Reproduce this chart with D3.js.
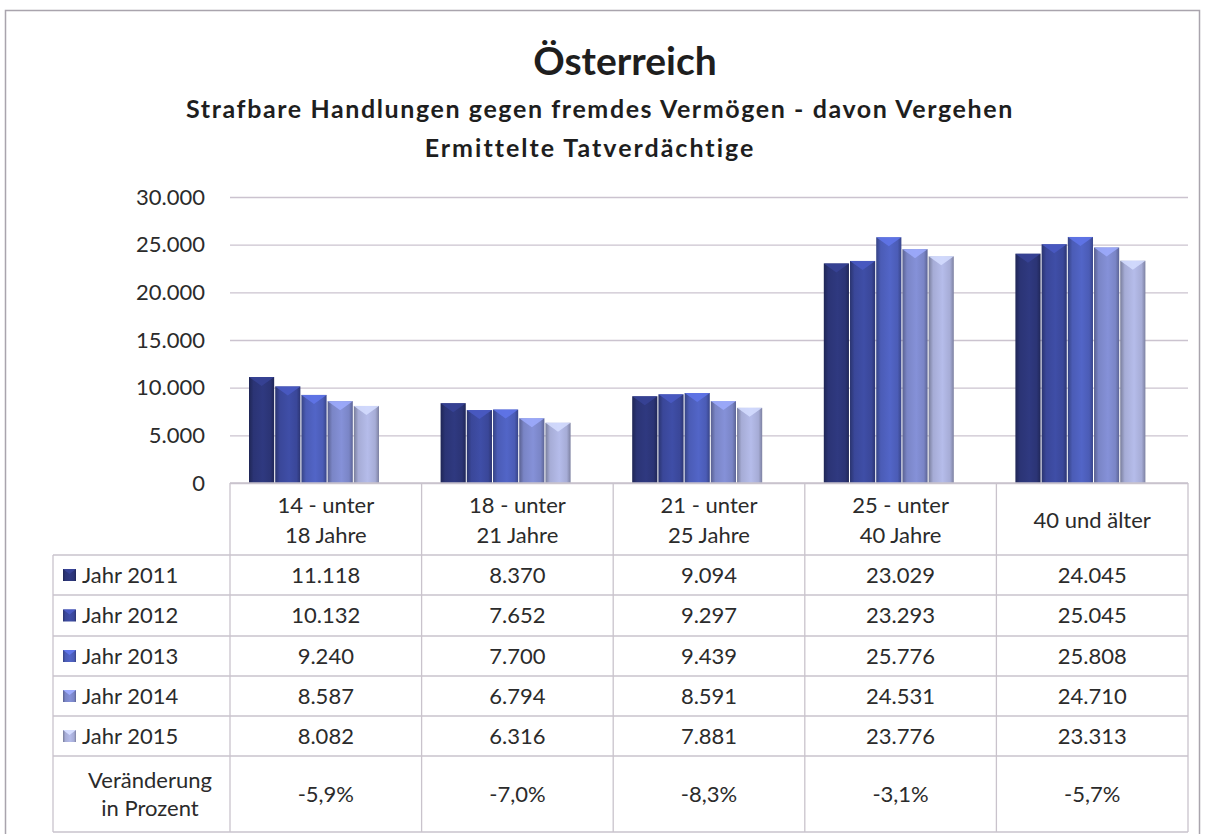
<!DOCTYPE html>
<html>
<head>
<meta charset="utf-8">
<script src="https://cdn.jsdelivr.net/npm/d3@7"></script>
<style>
  body { margin: 0; background: #fff; }
  text { font-family: Lato, "Open Sans", sans-serif; fill: #2b2b2b; }
</style>
</head>
<body>
<script>
var width = 1207,
    height = 834;

var categories = [["14 - unter", "18 Jahre"], ["18 - unter", "21 Jahre"], ["21 - unter", "25 Jahre"], ["25 - unter", "40 Jahre"], ["40 und älter"]];
var years = ["Jahr 2011", "Jahr 2012", "Jahr 2013", "Jahr 2014", "Jahr 2015"];
var v2011 = [11118, 8370, 9094, 23029, 24045];
var v2012 = [10132, 7652, 9297, 23293, 25045];
var v2013 = [9240, 7700, 9439, 25776, 25808];
var v2014 = [8587, 6794, 8591, 24531, 24710];
var v2015 = [8082, 6316, 7881, 23776, 23313];
var change = [-5.9, -7.0, -8.3, -3.1, -5.7];
var yTicks = [0, 5000, 10000, 15000, 20000, 25000, 30000];

var series = [v2011, v2012, v2013, v2014, v2015];
var colors = ["#2b3475", "#3a4799", "#4b5cb6", "#7a85c6", "#a6acd6"];

var de = d3.formatLocale({decimal: ",", thousands: ".", grouping: [3], currency: ["", "€"], minus: "-"});
var fmt = de.format(",d");
var pct = function (d) { return de.format(".1f")(d) + "%"; };

var fs = "22px";

var svg = d3.select("body").append("svg")
    .attr("width", width)
    .attr("height", height);

// outer frame
svg.append("rect")
    .attr("x", 5.5).attr("y", 10.5)
    .attr("width", 1194).attr("height", 840)
    .attr("fill", "none").attr("stroke", "#a9a4ad").attr("stroke-width", 1.5);

var x = d3.scaleBand()
    .domain(d3.range(categories.length))
    .range([230, 1188]);

var y = d3.scaleLinear()
    .domain([0, 30000])
    .range([483, 197]);

var xs = d3.scaleBand()
    .domain(d3.range(years.length))
    .range([19, 149])
    .paddingInner(0.04);

// gradients for the bevelled bars
var defs = svg.append("defs");
colors.forEach(function (c, i) {
    var g = defs.append("linearGradient").attr("id", "bar" + i)
        .attr("x1", "0%").attr("x2", "100%").attr("y1", "0%").attr("y2", "0%");
    g.append("stop").attr("offset", "0%").attr("stop-color", d3.color(c).darker(0.9));
    g.append("stop").attr("offset", "18%").attr("stop-color", c);
    g.append("stop").attr("offset", "55%").attr("stop-color", d3.color(c).brighter(0.25));
    g.append("stop").attr("offset", "85%").attr("stop-color", c);
    g.append("stop").attr("offset", "100%").attr("stop-color", d3.color(c).darker(0.8));
});

// gridlines + y axis labels
var yAxis = d3.axisLeft(y)
    .tickValues(yTicks)
    .tickSize(-(1188 - 230))
    .tickFormat(fmt);

var ga = svg.append("g")
    .attr("transform", "translate(230,0)")
    .call(yAxis);
ga.select(".domain").remove();
ga.selectAll(".tick line").attr("stroke", "#cbc3cf").attr("stroke-width", 1.3);
ga.selectAll(".tick text")
    .attr("x", -25)
    .style("font-size", fs)
    .style("fill", "#2b2b2b");

// bars
var groups = svg.selectAll(".grp")
    .data(categories)
    .enter().append("g")
    .attr("class", "grp")
    .attr("transform", function (d, i) { return "translate(" + x(i) + ",0)"; });

groups.each(function (c, ci) {
    var g = d3.select(this);
    series.forEach(function (s, si) {
        var bx = xs(si), bw = xs.bandwidth(), top = y(s[ci]);
        g.append("rect")
            .attr("x", bx).attr("y", top)
            .attr("width", bw).attr("height", 483 - top)
            .attr("fill", "url(#bar" + si + ")");
        // bevel cap
        g.append("path")
            .attr("d", "M" + bx + "," + top + "L" + (bx + bw) + "," + top +
                "L" + (bx + bw * 0.5) + "," + (top + 9) + "Z")
            .attr("fill", d3.color(colors[si]).brighter(0.7))
            .attr("opacity", 0.85);
    });
});

// table
var rowY = [555, 595, 636, 676, 716, 756, 832];
var gridColor = "#c9c3cc";
var tbl = svg.append("g");

// horizontal lines
tbl.append("line").attr("x1", 230).attr("x2", 1188).attr("y1", 483).attr("y2", 483)
    .attr("stroke", gridColor).attr("stroke-width", 1.3);
tbl.selectAll(".hl").data(rowY).enter().append("line")
    .attr("x1", 53).attr("x2", 1188)
    .attr("y1", function (d) { return d; }).attr("y2", function (d) { return d; })
    .attr("stroke", gridColor).attr("stroke-width", 1.3);

// vertical lines
var vx = d3.range(categories.length + 1).map(function (i) { return i < categories.length ? x(i) : x.range()[1]; });
tbl.selectAll(".vl").data(vx).enter().append("line")
    .attr("x1", function (d) { return d; }).attr("x2", function (d) { return d; })
    .attr("y1", 483).attr("y2", 832)
    .attr("stroke", gridColor).attr("stroke-width", 1.3);
tbl.append("line").attr("x1", 53).attr("x2", 53).attr("y1", 555).attr("y2", 832)
    .attr("stroke", gridColor).attr("stroke-width", 1.3);

// header labels
groups.each(function (c) {
    var g = d3.select(this);
    var cy = 520, lh = 30;
    c.forEach(function (line, li) {
        g.append("text")
            .attr("x", x.bandwidth() / 2)
            .attr("y", cy + (li - (c.length - 1) / 2) * lh)
            .attr("dy", "0.35em")
            .attr("text-anchor", "middle")
            .style("font-size", fs)
            .text(line);
    });
});

// legend cells + values
years.forEach(function (yr, si) {
    var cy = (rowY[si] + rowY[si + 1]) / 2;
    tbl.append("rect")
        .attr("x", 63).attr("y", cy - 6)
        .attr("width", 13).attr("height", 12)
        .attr("fill", "url(#bar" + si + ")");
    tbl.append("path")
        .attr("d", "M63," + (cy - 6) + "L76," + (cy - 6) + "L69.5," + (cy - 1) + "Z")
        .attr("fill", d3.color(colors[si]).brighter(0.7));
    tbl.append("text")
        .attr("x", 82).attr("y", cy).attr("dy", "0.35em")
        .style("font-size", fs)
        .text(yr);
    series[si].forEach(function (v, ci) {
        tbl.append("text")
            .attr("x", x(ci) + x.bandwidth() / 2).attr("y", cy).attr("dy", "0.35em")
            .attr("text-anchor", "middle")
            .style("font-size", fs)
            .text(fmt(v));
    });
});

// change row
var cyc = (rowY[5] + rowY[6]) / 2;
["Veränderung", "in Prozent"].forEach(function (t, i) {
    tbl.append("text")
        .attr("x", 150).attr("y", cyc + (i - 0.5) * 28).attr("dy", "0.35em")
        .attr("text-anchor", "middle")
        .style("font-size", fs)
        .text(t);
});
change.forEach(function (v, ci) {
    tbl.append("text")
        .attr("x", x(ci) + x.bandwidth() / 2).attr("y", cyc).attr("dy", "0.35em")
        .attr("text-anchor", "middle")
        .style("font-size", fs)
        .text(pct(v));
});

// titles
svg.append("text")
    .attr("x", 625).attr("y", 75)
    .attr("text-anchor", "middle")
    .style("font-size", "39px").style("font-weight", "bold").style("fill", "#1e1e1e")
    .text("Österreich");
svg.append("text")
    .attr("x", 600).attr("y", 118)
    .attr("text-anchor", "middle")
    .style("font-size", "25px").style("font-weight", "bold").style("fill", "#1e1e1e")
    .style("letter-spacing", "1.6px")
    .text("Strafbare Handlungen gegen fremdes Vermögen - davon Vergehen");
svg.append("text")
    .attr("x", 590).attr("y", 157)
    .attr("text-anchor", "middle")
    .style("font-size", "25px").style("font-weight", "bold").style("fill", "#1e1e1e")
    .style("letter-spacing", "2px")
    .text("Ermittelte Tatverdächtige");
</script>
</body>
</html>
